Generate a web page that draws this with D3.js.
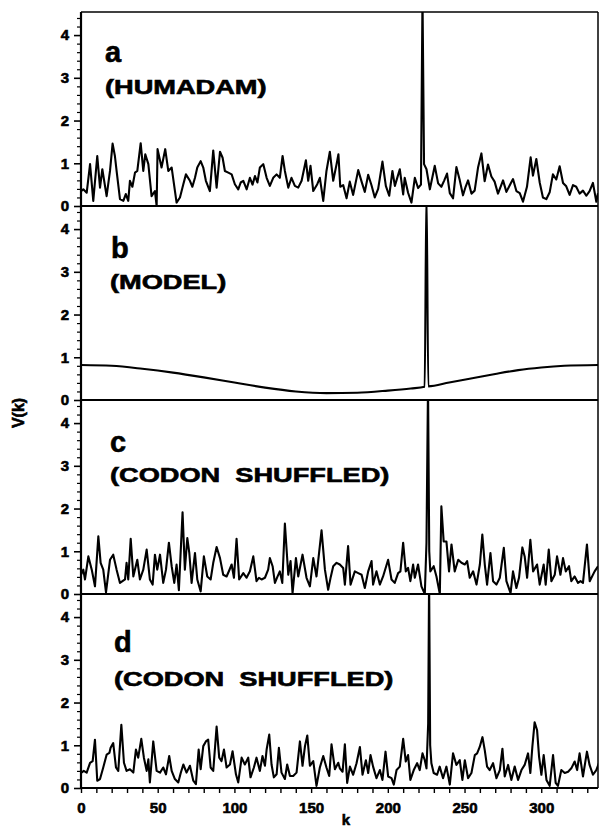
<!DOCTYPE html>
<html>
<head>
<meta charset="utf-8">
<script src="https://cdn.jsdelivr.net/npm/d3@7"></script>
<style>
    body { margin: 0; background: #fff; }
    text { font-family: 'Liberation Sans', Arial, sans-serif; font-weight: bold; fill: #000; }
    .heavy { stroke: #000; stroke-width: 0.6px; }
</style>
</head>
<body>
<div id="chart"></div>
<script>
// Panel a: HUMADAM spectrum, [k, V(k)]
const seriesA = [[0,0.35],[1.5,0.39],[3.7,0.31],[5.9,0.98],[8,0.12],[10.6,1.17],[12.4,0.43],[13.9,0.86],[16.7,0.23],[18.9,0.82],[20.6,1.46],[22.1,1.17],[23.2,0.82],[25.4,0.16],[27.6,0.12],[29.2,0.28],[30.8,0.12],[31.9,0.59],[33.5,0.45],[35.2,0.78],[36.7,0.82],[38.9,1.47],[40.6,0.82],[41.9,1.21],[43.9,0.98],[46,0.23],[48.2,0.35],[49.3,0],[49.9,1.33],[52.5,0.9],[54.9,1.33],[56.9,0.82],[59.1,0.9],[62.3,0.08],[64.5,0.2],[66.7,0.51],[68.4,0.74],[71,0.59],[72.6,0.45],[74.3,0.66],[75.8,0.9],[78,1.05],[79.7,0.9],[81.4,0.59],[84,0.35],[86.2,1.3],[88.4,0.43],[90.6,1.27],[92.3,1.13],[93.8,0.82],[96,0.78],[98.2,0.74],[100.3,0.51],[102.5,0.39],[104.1,0.55],[105.8,0.59],[108,0.39],[110.1,0.66],[111.8,0.5],[113.4,0.7],[115,0.55],[116.6,0.9],[118.8,0.98],[121,0.66],[123.1,0.47],[125.3,0.66],[127.5,0.74],[129.6,0.66],[131.4,1.17],[132.9,0.82],[135.1,0.43],[137.2,0.66],[139.4,0.47],[141.6,0.43],[143.8,0.59],[146.6,1.07],[148.1,0.59],[149.6,0.94],[151.4,0.35],[154,0.51],[155.7,0.66],[157.9,0.12],[160,0.82],[162.2,1.27],[164.4,0.59],[166.6,0.98],[167.8,1.21],[169,0.45],[170.9,0.49],[173.1,0.18],[175.2,0.57],[177.4,0.26],[180.7,0.84],[182.9,0.57],[185,0.33],[187.2,0.73],[189.4,0.48],[191.5,0.2],[193.7,0.4],[196.5,1.04],[198.7,0.47],[200.9,0.24],[203,0.82],[204.6,0.47],[207.8,0.86],[210,0.27],[211,0.66],[213.2,0.31],[215.4,0.08],[217.6,0.66],[219.7,0.42],[221.6,0.5],[222.6,4.9],[223.6,0.98],[225.2,0.86],[227.4,0.39],[230.6,0.94],[232.8,0.53],[234.9,0.45],[236.8,0.6],[238.6,0.76],[240.4,0.3],[242.5,0.18],[244.7,0.91],[246.9,0.6],[249,0.25],[250.7,0.45],[252.3,0.6],[254.5,0.29],[256.6,0.36],[258.8,0.9],[261,1.23],[263.1,0.58],[265.3,0.97],[267.5,0.69],[269.6,0.57],[271.8,0.29],[273.5,0.45],[275.1,0.6],[277.3,0.33],[279.4,0.48],[281.6,0.63],[283.8,0.35],[286,0.3],[288.1,0.1],[290.7,0.45],[293.1,1.14],[294.6,0.71],[296.8,1.1],[299,0.55],[301.1,0.2],[303.3,0.16],[305.5,0.32],[307.6,0.74],[309.8,0.62],[312,0.93],[314.2,0.54],[316.3,0.46],[318.5,0.26],[320.7,0.49],[322.8,0.45],[325,0.29],[327.2,0.36],[329.4,0.24],[331.5,0.35],[333.7,0.54],[335.9,0.1],[337,0.3]];

// Panel b: model curve
const seriesB = [[0,0.82],[20,0.8],[40,0.73],[60,0.64],[80,0.53],[100,0.41],[120,0.29],[140,0.2],[160,0.16],[180,0.17],[200,0.22],[215,0.27],[224,0.31],[225.2,4.9],[226.4,0.32],[240,0.41],[255,0.51],[270,0.61],[285,0.7],[300,0.76],[315,0.8],[337,0.82]];

// Panel c: codon shuffled
const seriesC = [[0,0.45],[1.5,0.57],[2.6,0.34],[4.8,0.88],[7,0.57],[9.1,0.18],[11.3,1.35],[12.8,0.73],[14.5,0.57],[16.3,0.04],[18.9,0.8],[21,0.92],[23.2,0.57],[25.4,0.26],[28.7,0.34],[29.7,0.73],[30.8,0.34],[32.4,1.29],[34.1,0.41],[36.7,0.8],[38.4,0.34],[40.6,0.57],[42.8,1.04],[44.9,0.34],[46.7,0.22],[48.2,0.92],[49.7,0.57],[51.5,0.92],[53.6,0.26],[55.4,0.57],[57.3,1.2],[59.1,0.65],[60.8,0.26],[62.3,0.69],[63.8,0.09],[66.2,1.91],[67.7,0.57],[69.3,1.31],[70.6,0.96],[72.1,0.26],[74.3,0.96],[75.8,0.34],[78,0.06],[80.1,0.88],[82.3,0.41],[84.5,0.34],[86.2,0.73],[88.4,1.1],[90.6,0.84],[92.7,0.45],[94.9,0.41],[96.6,0.55],[98.2,0.69],[99.7,0.38],[101.4,1.29],[103.1,0.34],[105.8,0.49],[107.9,0.38],[110.1,0.53],[112.3,0.88],[114.4,0.3],[116,0.38],[117.7,0.34],[119.9,0.38],[122,0.57],[123.1,0.84],[124.9,0.65],[126.4,0.26],[128,0.4],[129.6,0.53],[131.2,0.26],[132.9,1.65],[135.1,0.45],[136.6,0.77],[137.9,0.02],[140.1,0.84],[141.6,0.41],[144.4,0.92],[147,0.38],[149.2,0.18],[151.4,0.84],[153.5,0.41],[156.8,1.49],[159,0.57],[161.1,0.1],[162.8,0.4],[164.4,0.65],[166.6,0.73],[168.7,0.69],[170.9,0.61],[172,0.22],[174.1,1.12],[175.7,0.22],[178.5,0.53],[180.7,0.49],[182.9,0.45],[185,0.14],[187.2,0.53],[189.4,0.77],[190.4,0.22],[192.6,0.53],[194.8,0.22],[196.9,0.41],[200.2,0.8],[202.4,0.34],[204.5,0.26],[206.7,0.49],[208.2,0.53],[210,1.2],[211.7,0.53],[213.2,0.61],[214.7,0.3],[216.5,0.69],[217.6,0.38],[219.7,0.69],[221.9,0.18],[224.1,0],[225.2,1.2],[226.2,4.9],[227,1.0],[227.7,0.53],[229.9,0.65],[231.7,0.41],[233.9,0],[234.9,2.05],[236.4,1.23],[238.2,1.23],[239.9,0.53],[241.5,1.16],[243.6,0.53],[245.9,0.8],[248,0.73],[250.2,0.69],[251.7,0.77],[253.4,0.38],[255.6,0.53],[257.8,0.22],[260,0.69],[261.6,1.39],[263.2,0.69],[264.7,0.22],[266.9,0.96],[268.6,0.3],[270.8,0.22],[273,0.38],[275.6,1.08],[277.3,0.3],[280,0.02],[281.6,0.53],[283.8,0.14],[285.5,0.38],[287.7,1.09],[289.2,0.88],[290.8,0.38],[292.9,1.27],[294.7,0.53],[297.3,0.69],[299,0.22],[301.6,0.69],[302.9,0.22],[304.9,1.04],[306.6,0.3],[308.8,0.45],[310.3,0.88],[312.5,0.45],[314.2,0.84],[316,0.53],[318.1,0.65],[319.6,0.3],[321.8,0.41],[324,0.26],[325.6,0.3],[327.2,0.26],[329.8,1.16],[331.6,0.3],[334.8,0.53],[337,0.65]];

// Panel d: codon shuffled (second run)
const seriesD = [[0,0.35],[1.8,0.4],[3.7,0.36],[5.9,0.59],[7.6,0.63],[9.1,1.13],[10.6,0.17],[12.4,0.21],[14.5,0.48],[16.7,0.78],[18.5,0.82],[19.3,0.94],[21,1.05],[22.8,0.48],[24.3,0.4],[26.3,1.48],[28,0.59],[29.7,0.4],[31.9,0.44],[34.1,0.36],[35.8,0.9],[37.3,0.71],[39.3,1.15],[41,0.71],[42.8,0.4],[43.9,0.67],[44.9,0.13],[47.1,1.09],[49.3,0.4],[51.5,0.36],[53.6,0.48],[55.4,0.32],[57.5,0.75],[59.1,0.4],[61.2,0.21],[63.4,0.13],[65,0.35],[66.7,0.55],[68.8,0.36],[71,0.52],[73.2,0.17],[74.9,0.09],[76.7,0.9],[78,0.44],[79.7,0.98],[81.4,1.09],[82.9,1.13],[84.5,0.48],[86.2,0.4],[88.4,1.44],[90.1,0.71],[91.6,0.63],[93.2,0.9],[94.9,0.48],[97.1,0.55],[98.8,0.86],[101,0.32],[102.5,0.13],[104.7,0.71],[106.8,0.55],[109,0.71],[110.5,0.25],[112.7,0.48],[114.4,0.71],[116.6,0.4],[118.3,0.75],[119.9,0.52],[121,0.9],[122.7,1.25],[124.2,0.55],[125.7,0.25],[127.5,0.32],[129,0.94],[130.7,0.36],[132.9,0.21],[134.4,0.55],[136.2,0.28],[138.3,0.28],[140.5,0.36],[142.7,1.09],[144.4,0.52],[146,0.98],[147.5,1.23],[149.2,0.52],[151.4,0.63],[153.5,0.05],[155.7,0.48],[157.9,0.75],[160,0.48],[161.8,0.28],[163.3,1.02],[165.5,0.44],[167.7,0.59],[168.7,0.46],[170.5,0.38],[172,1.02],[173.5,0.12],[175.3,0.5],[177.4,0.31],[179.6,0.58],[181.8,0.96],[183.5,0.31],[185.7,0.65],[187.2,0.35],[188.7,0.77],[190.4,0.5],[192.6,0.23],[194.8,0.42],[196.5,0.19],[198.5,0.85],[200.2,0.27],[202.4,0.23],[203.9,0.08],[205.7,0.42],[207.8,0.5],[210,1.15],[211.7,0.62],[213.2,0.77],[214.7,0.19],[216.9,0.42],[219.1,0.58],[220.8,0.42],[222.6,0.81],[224.1,0.65],[225.2,0.46],[226.3,1.5],[226.9,4.9],[227.6,1.0],[228.4,0.58],[229.9,0.35],[232.1,0.31],[233.8,0.5],[236,0.23],[238.2,0.5],[240.4,0.08],[242.5,0.81],[244.7,0.54],[246.9,0.65],[248.6,0.19],[250.2,0.65],[252.3,0.23],[254.5,0.35],[256.7,0.77],[258.2,0.81],[259.9,0.96],[261.7,1.19],[263.2,0.88],[264.7,0.5],[266.4,0.42],[268.6,0.58],[270.8,0.23],[273,0.42],[274.7,0.92],[276.2,0.27],[278.4,0.54],[280.5,0.19],[282.7,0.5],[284.9,0.19],[287.1,0.42],[289.2,0.54],[291.4,0.81],[292.9,0.35],[294.2,0.96],[295.7,1.54],[297.3,1.35],[298.6,0.73],[300.1,0.31],[301.6,0.77],[303.4,0.19],[305.5,0.05],[307.7,0.77],[309.4,0.12],[310.9,0.05],[313.1,0.42],[315.3,0.35],[317.5,0.38],[319.6,0.46],[321.8,0.62],[323.4,0.42],[325,0.81],[327.2,0.27],[329.8,0.85],[331.5,0.54],[333.7,0.31],[335.9,0.42],[337.6,0.58]];

// Labels and ticks
const panelLetters = ['a', 'b', 'c', 'd'];
const panelTitles = ['(HUMADAM)', '(MODEL)', '(CODON  SHUFFLED)', '(CODON  SHUFFLED)'];
const yMajorTicks = [0, 1, 2, 3, 4];
const xTicks = d3.range(0, 340, 10);
const xLabelEvery = 50;

// Layout
const chartW = 600, chartH = 827;
const plotLeft = 81, plotRight = 598, plotTop = 12, panelH = 194;
const yMax = 4.54;
const letterPos = [[105, 62], [111, 258], [110, 452], [114, 652]];
const titlePos = [[105, 94], [110, 289], [110, 482], [114, 686]];

const svg = d3.select('#chart').append('svg')
    .attr('width', chartW)
    .attr('height', chartH);

const x = d3.scaleLinear().domain([0, 337]).range([plotLeft, plotRight]);

const allSeries = [seriesA, seriesB, seriesC, seriesD];

allSeries.forEach((series, i) => {
    const y0 = plotTop + i * panelH;
    const y = d3.scaleLinear().domain([0, yMax]).range([y0 + panelH, y0]);

    // Clip to panel
    svg.append('clipPath').attr('id', 'clip' + i)
        .append('rect')
        .attr('x', plotLeft).attr('y', y0)
        .attr('width', plotRight - plotLeft).attr('height', panelH);

    const line = d3.line()
        .x(d => x(d[0]))
        .y(d => y(d[1]))
        .curve(i === 1 ? d3.curveMonotoneX : d3.curveLinear);

    svg.append('path')
        .datum(series)
        .attr('clip-path', 'url(#clip' + i + ')')
        .attr('fill', 'none')
        .attr('stroke', '#000')
        .attr('stroke-width', 2.1)
        .attr('stroke-linejoin', 'round')
        .attr('d', line);

    // Minor y ticks
    const minor = d3.range(0.2, 4.45, 0.2).filter(v => Math.abs(v - Math.round(v)) > 0.05);
    svg.append('g')
        .attr('transform', 'translate(' + plotLeft + ',0)')
        .call(d3.axisLeft(y).tickValues(minor).tickSize(4).tickFormat(''))
        .call(g => g.select('.domain').remove())
        .call(g => g.selectAll('line').attr('stroke-width', 1.2));

    // Major y ticks
    svg.append('g')
        .attr('transform', 'translate(' + plotLeft + ',0)')
        .call(d3.axisLeft(y).tickValues(yMajorTicks).tickSize(7).tickPadding(5).tickFormat(d3.format('d')))
        .call(g => g.select('.domain').remove())
        .call(g => g.selectAll('line').attr('stroke-width', 1.6))
        .call(g => g.selectAll('text').style('font-size', '15px').attr('font-family', null).attr('class', 'heavy'));

    // Panel bottom line
    svg.append('line')
        .attr('x1', plotLeft).attr('x2', plotRight)
        .attr('y1', y0 + panelH).attr('y2', y0 + panelH)
        .attr('stroke', '#000').attr('stroke-width', 2);

    // Panel letter and title
    svg.append('text')
        .attr('class', 'heavy')
        .attr('x', letterPos[i][0]).attr('y', letterPos[i][1])
        .style('font-size', '29px')
        .text(panelLetters[i]);

    svg.append('text')
        .attr('class', 'heavy')
        .attr('transform', 'translate(' + titlePos[i][0] + ',' + titlePos[i][1] + ') scale(1.36,1)')
        .style('font-size', '20px')
        .style('white-space', 'pre')
        .text(panelTitles[i]);
});

// Frame: top, left, right
svg.append('line')
    .attr('x1', plotLeft).attr('x2', plotRight).attr('y1', plotTop).attr('y2', plotTop)
    .attr('stroke', '#000').attr('stroke-width', 1.5);
svg.append('line')
    .attr('x1', plotLeft).attr('x2', plotLeft).attr('y1', plotTop).attr('y2', plotTop + 4 * panelH)
    .attr('stroke', '#000').attr('stroke-width', 2.2);
svg.append('line')
    .attr('x1', plotRight).attr('x2', plotRight).attr('y1', plotTop).attr('y2', plotTop + 4 * panelH)
    .attr('stroke', '#000').attr('stroke-width', 1.5);

// Bottom x axis
const xAxisG = svg.append('g')
    .attr('transform', 'translate(0,' + (plotTop + 4 * panelH) + ')')
    .call(d3.axisBottom(x).tickValues(xTicks).tickSize(5).tickFormat(d => d % xLabelEvery === 0 ? d : ''))
    .call(g => g.select('.domain').remove())
    .call(g => g.selectAll('line').attr('stroke-width', 1.4));
xAxisG.selectAll('text')
    .attr('font-family', null)
    .attr('class', 'heavy')
    .style('font-size', '15px')
    .attr('y', 14.5);

// Axis titles
svg.append('text')
    .attr('class', 'heavy')
    .attr('x', 346).attr('y', 825)
    .attr('text-anchor', 'middle')
    .style('font-size', '15px')
    .text('k');

svg.append('text')
    .attr('class', 'heavy')
    .attr('transform', 'translate(24,413) rotate(-90)')
    .attr('text-anchor', 'middle')
    .style('font-size', '16px')
    .text('V(k)');
</script>
</body>
</html>
